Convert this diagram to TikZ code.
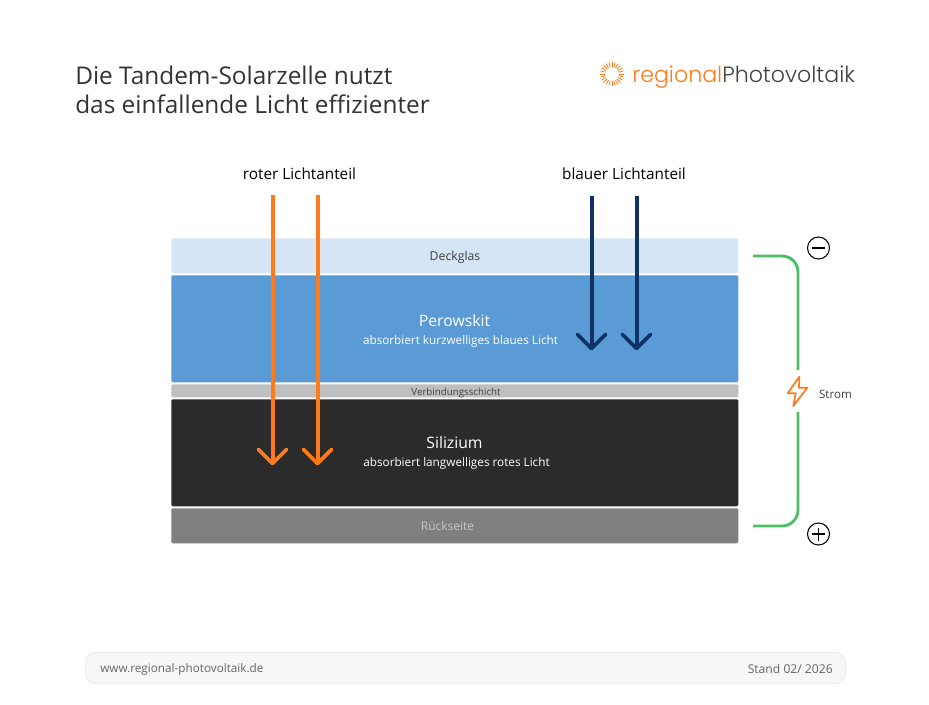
\documentclass[tikz,border=0pt]{standalone}
\usepackage{fontspec}
\setmainfont{Open Sans}
\newfontfamily\logofont{Poppins Light}
\definecolor{glascol}{HTML}{D5E5F5}
\definecolor{perocol}{HTML}{5B9BD5}
\definecolor{verbcol}{HTML}{BFBFBF}
\definecolor{silicol}{HTML}{2B2B2B}
\definecolor{rueckcol}{HTML}{7F7F7F}
\definecolor{rotcol}{HTML}{FF7A1A}
\definecolor{blaucol}{HTML}{0F3366}
\definecolor{gruencol}{HTML}{4CBF66}
\definecolor{textcol}{HTML}{404040}
\tikzset{
 layer/.style={minimum width=425.25pt, inner sep=0pt, rounded corners=1pt, anchor=north west},
 rotpfeil/.style={rotcol, line width=3pt},
 blaupfeil/.style={blaucol, line width=3pt},
 kopf/.style={line width=2.7pt, line cap=round, line join=round},
 leitung/.style={gruencol, line width=2.2pt, rounded corners=12pt},
 pol/.style={circle, draw=black, line width=0.8pt, minimum size=16.5pt, inner sep=0pt},
}
\begin{document}
\begin{tikzpicture}[x=0.75pt, y=-0.75pt]
 \useasboundingbox (0,0) rectangle (929,704);
 % Titel und Logo
 \node[anchor=west, black!80, font=\fontsize{18.3}{22}\selectfont, align=left, inner sep=0pt] (titel) at (75,90)
 {Die Tandem-Solarzelle nutzt\\das einfallende Licht effizienter};
 \foreach \w in {0,15,...,345}
  \draw[rotcol, line width=0.6pt] (612,74) ++(\w:7) -- ++(\w:5);
 \node[anchor=west, inner sep=0pt, font=\logofont\fontsize{16.6}{20}\selectfont] (logo) at (632,77.5)
 {\textcolor{rotcol}{regional}\textcolor{textcol}{Photovoltaik}};
 % Schichten
 \node[layer, fill=glascol, minimum height=26.25pt] (glas) at (171,238) {};
 \node[layer, fill=perocol, minimum height=80.25pt] (pero) at (171,275) {};
 \node[layer, fill=verbcol, minimum height=9.75pt] (verb) at (171,384) {};
 \node[layer, fill=silicol, minimum height=80.25pt] (sili) at (171,399) {};
 \node[layer, fill=rueckcol, minimum height=26.25pt] (rueck) at (171,508) {};
 \node[textcol, font=\fontsize{9.2}{10}\selectfont] (glastext) at (455,257) {Deckglas};
 \node[white, font=\fontsize{11.8}{13}\selectfont] (perotext) at (454.5,321) {Perowskit};
 \node[white, font=\fontsize{8.8}{10}\selectfont] (perosub) at (460.5,341.5) {absorbiert kurzwelliges blaues Licht};
 \node[textcol, font=\fontsize{7.3}{9}\selectfont] (verbtext) at (456,392.5) {Verbindungsschicht};
 \node[white, font=\fontsize{11.8}{13}\selectfont] (silitext) at (454.5,443) {Silizium};
 \node[white, font=\fontsize{8.8}{10}\selectfont] (silisub) at (456.5,463.5) {absorbiert langwelliges rotes Licht};
 \node[black!22, font=\fontsize{9}{10}\selectfont] (ruecktext) at (447.5,525.5) {Rückseite};
 % Licht
 \node[font=\fontsize{11.5}{13}\selectfont] (rot) at (299.5,174) {roter Lichtanteil};
 \node[font=\fontsize{11.5}{13}\selectfont] (blau) at (624,174) {blauer Lichtanteil};
 \coordinate (r1a) at (272.5,195);
 \coordinate (r1b) at (272.5,463.5);
 \coordinate (r2a) at (317.5,195);
 \coordinate (r2b) at (317.5,463.5);
 \coordinate (b1a) at (591.5,196);
 \coordinate (b1b) at (591.5,348.5);
 \coordinate (b2a) at (636.5,196);
 \coordinate (b2b) at (636.5,348.5);
 \draw[rotpfeil] (r1a) -- (r1b);
 \draw[rotpfeil] (r2a) -- (r2b);
 \draw[blaupfeil] (b1a) -- (b1b);
 \draw[blaupfeil] (b2a) -- (b2b);
 \foreach \k in {r1b,r2b}
  \draw[rotcol, kopf] (\k) ++(-14,-14) -- (\k) -- ++(14,-14);
 \foreach \k in {b1b,b2b}
  \draw[blaucol, kopf] (\k) ++(-14,-14) -- (\k) -- ++(14,-14);
 % Stromkreis
 \coordinate (ob) at (753,256);
 \coordinate (un) at (753,526);
 \coordinate (blitzob) at (798,370);
 \coordinate (blitzun) at (798,412);
 \draw[leitung] (ob) -- (798,256) -- (blitzob);
 \draw[leitung] (blitzun) -- (798,526) -- (un);
 \draw[rotcol, line width=1.3pt, line join=round]
 (799.3,376.7) -- (787.7,393.3) -- (795.7,393.3) -- (793.3,406) -- (807.3,387.7) -- (799,387.7) -- cycle;
 \node[textcol, font=\fontsize{8.7}{10}\selectfont] (strom) at (835.5,394.5) {Strom};
 \node[pol] (minus) at (818.5,248) {};
 \draw[line width=0.8pt] (812,248) -- (825,248);
 \node[pol] (plus) at (818.5,534) {};
 \draw[line width=0.8pt] (812,534) -- (825,534);
 \draw[line width=0.8pt] (818.5,527.5) -- (818.5,540.5);
 % Fusszeile
 \node[anchor=north west, draw=black!8, fill=black!3, line width=0.6pt, rounded corners=7.5pt, minimum width=570pt, minimum height=23.5pt, inner sep=0pt] (fuss) at (85,652) {};
 \node[anchor=west, black!60, font=\fontsize{8.8}{10}\selectfont, inner sep=0pt] (web) at (100,669) {www.regional-photovoltaik.de};
 \node[anchor=east, black!60, font=\fontsize{9.1}{10}\selectfont, inner sep=0pt] (stand) at (833,669) {Stand 02/ 2026};
\end{tikzpicture}
\end{document}
